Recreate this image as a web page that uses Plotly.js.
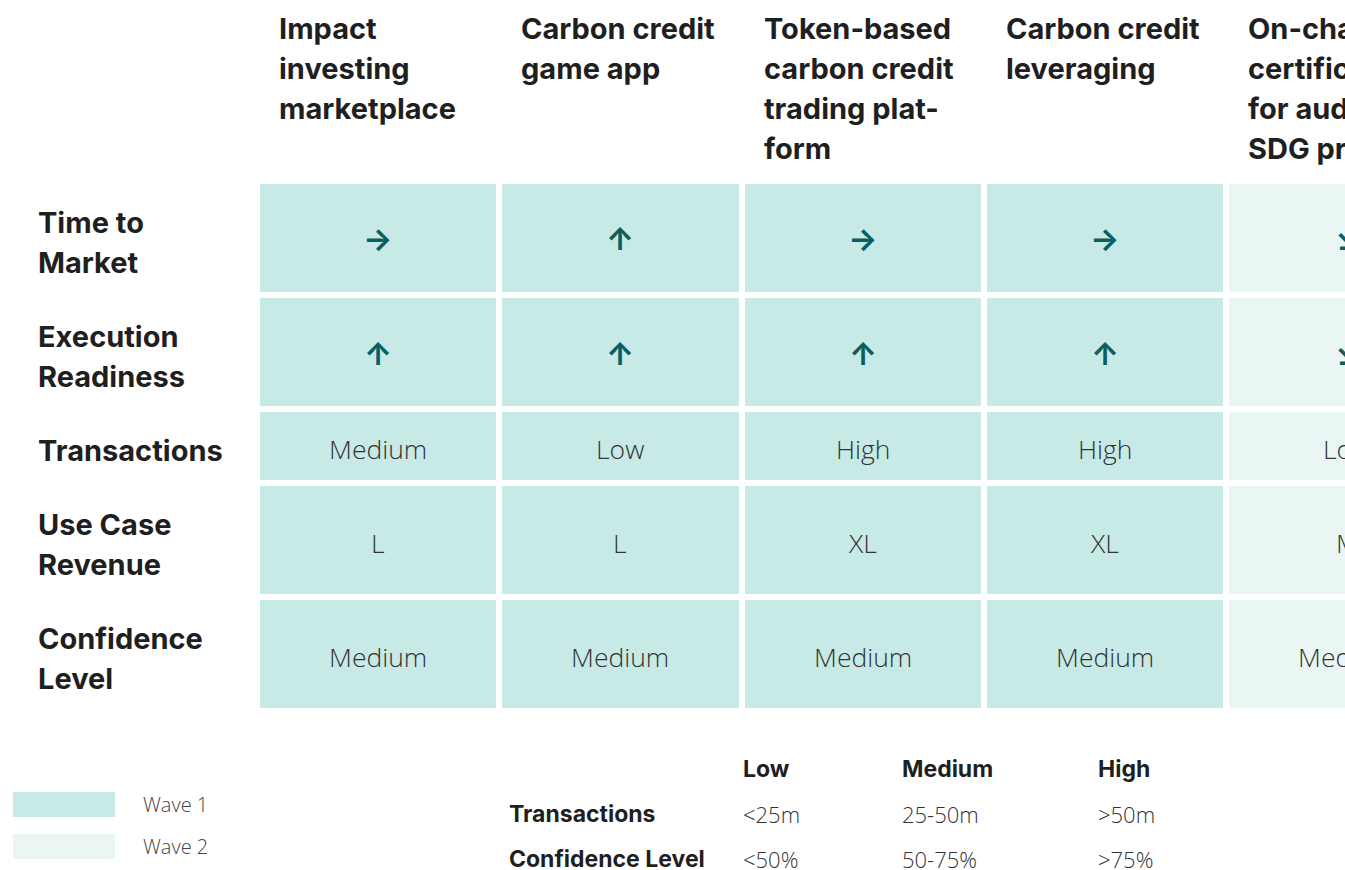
<!DOCTYPE html>
<html>
<head>
<meta charset="utf-8">
<script src="https://cdn.plot.ly/plotly-3.0.1.min.js"></script>
<style>html,body{margin:0;padding:0;background:#fff}#chart{width:1345px;height:870px}</style>
</head>
<body>
<div id="chart"></div>
<script>
// ---------- DATA ----------
const useCases = [
  ["Impact", "investing", "marketplace"],
  ["Carbon credit", "game app"],
  ["Token-based", "carbon credit", "trading plat-", "form"],
  ["Carbon credit", "leveraging"],
  ["On-chain", "certification", "for auditing", "SDG projects"]
];
const waves = [1, 1, 1, 1, 2];
const criteria = [
  ["Time to", "Market"],
  ["Execution", "Readiness"],
  ["Transactions"],
  ["Use Case", "Revenue"],
  ["Confidence", "Level"]
];
const timeToMarket       = ["→", "↑", "→", "→", "↘"];
const executionReadiness = ["↑", "↑", "↑", "↑", "↘"];
const transactions       = ["Medium", "Low", "High", "High", "Low"];
const useCaseRevenue     = ["L", "L", "XL", "XL", "M"];
const confidenceLevel    = ["Medium", "Medium", "Medium", "Medium", "Medium"];
const legendLabels = ["Wave 1", "Wave 2"];
const keyLevels = ["Low", "Medium", "High"];
const keyRows = ["Transactions", "Confidence Level"];
const keyTransactions = ["<25m", "25-50m", ">50m"];
const keyConfidence = ["<50%", "50-75%", ">75%"];

// ---------- LAYOUT HELPERS ----------
const rows = [timeToMarket, executionReadiness, transactions, useCaseRevenue, confidenceLevel];
const isArrowRow = [true, true, false, false, false];
const rowSize = [1, 1, 0.65, 1, 1];           // relative row heights
const W = 1345, H = 870;
const colPitch = 242.25, gridLeft = 257;      // px
const rowUnit = 114, gridTop = 181;           // px
const xAt = px => -0.5 + (px - gridLeft) / colPitch;
const yAt = px => (px - gridTop) / rowUnit;
const xr = [xAt(0), xAt(W)], yr = [yAt(H), yAt(0)];
const xPaper = x => (x - xr[0]) / (xr[1] - xr[0]);
const yPaper = y => (y - yr[0]) / (yr[1] - yr[0]);

const nC = useCases.length;
const xEdges = []; for (let i = 0; i <= nC; i++) xEdges.push(i - 0.5);
const yEdges = [0]; rowSize.forEach(s => yEdges.push(yEdges[yEdges.length - 1] + s));
const yMid = rowSize.map((s, i) => yEdges[i] + s / 2);
const z = rows.map(() => waves.slice());

const C1 = "#C8EAE6", C2 = "#EAF6F4";
const BOLD = {family: "Inter, 'DejaVu Sans', sans-serif", size: 29, color: "#1f1f1f", weight: 700};
const LIGHT = {family: "'Open Sans', Inter, sans-serif", size: 26.5, color: "#333333", weight: 300};
const ARROW = {family: "Inter, 'DejaVu Sans', sans-serif", size: 31, color: "#0B5F63", weight: 700};

const ann = [];
// headers
useCases.forEach((lines, i) => {
  lines.forEach((t, k) => ann.push({
    x: i - 0.5, xshift: 20, y: yAt(28 + 40 * k), xref: "x", yref: "y",
    text: t, showarrow: false, xanchor: "left", yanchor: "middle", font: BOLD
  }));
});
// row labels
criteria.forEach((lines, r) => {
  const n = lines.length;
  lines.forEach((t, k) => ann.push({
    x: xAt(36), y: yMid[r], yshift: -((k - (n - 1) / 2) * 40) - 4, xref: "x", yref: "y",
    text: t, showarrow: false, xanchor: "left", yanchor: "middle", font: BOLD
  }));
});
// cell values (paper refs so the partly visible last column is still drawn)
rows.forEach((vals, r) => vals.forEach((v, c) => ann.push({
  x: xPaper(c), y: yPaper(yMid[r]), xref: "paper", yref: "paper", text: v, showarrow: false,
  yshift: isArrowRow[r] ? -1 : -3,
  xanchor: "center", yanchor: "middle", font: isArrowRow[r] ? ARROW : LIGHT
})));

// legend
const shapes = [];
legendLabels.forEach((t, k) => {
  const y0 = 792 + 42 * k;
  shapes.push({type: "rect", xref: "paper", yref: "paper", x0: 13 / W, x1: 115 / W,
    y0: 1 - (y0 + 25) / H, y1: 1 - y0 / H, fillcolor: k === 0 ? C1 : C2, line: {width: 0}, layer: "above"});
  ann.push({xref: "paper", yref: "paper", x: 141 / W, y: 1 - (y0 + 12.5) / H, text: t, showarrow: false,
    xanchor: "left", yanchor: "middle", font: {family: "'Open Sans', Inter, sans-serif", size: 20, color: "#444", weight: 300}});
});

// key table
const keyColX = [741, 900, 1096];
const KEYB = {family: "Inter, 'DejaVu Sans', sans-serif", size: 23, color: "#1f1f1f", weight: 700};
const KEYL = {family: "'Open Sans', Inter, sans-serif", size: 22, color: "#333333", weight: 300};
keyLevels.forEach((t, i) => ann.push({xref: "paper", yref: "paper", x: keyColX[i] / W, y: 1 - 769 / H,
  text: t, showarrow: false, xanchor: "left", yanchor: "middle", font: KEYB}));
[keyTransactions, keyConfidence].forEach((vals, r) => {
  const py = 814 + 45 * r;
  ann.push({xref: "paper", yref: "paper", x: 507 / W, y: 1 - py / H, text: keyRows[r], showarrow: false,
    xanchor: "left", yanchor: "middle", font: KEYB});
  vals.forEach((v, i) => ann.push({xref: "paper", yref: "paper", x: keyColX[i] / W, y: 1 - py / H,
    text: v, showarrow: false, xanchor: "left", yanchor: "middle", font: KEYL}));
});

const trace = {
  type: "heatmap", x: xEdges, y: yEdges, z: z, zmin: 1, zmax: 2,
  colorscale: [[0, C1], [1, C2]], showscale: false, xgap: 6, ygap: 6, hoverinfo: "skip"
};

const layout = {
  width: W, height: H, margin: {l: 0, r: 0, t: 0, b: 0},
  paper_bgcolor: "#fff", plot_bgcolor: "#fff", showlegend: false,
  xaxis: {range: xr, visible: false, fixedrange: true},
  yaxis: {range: yr, visible: false, fixedrange: true},
  annotations: ann, shapes: shapes
};
Plotly.newPlot("chart", [trace], layout, {displayModeBar: false, staticPlot: true});
</script>
</body>
</html>
